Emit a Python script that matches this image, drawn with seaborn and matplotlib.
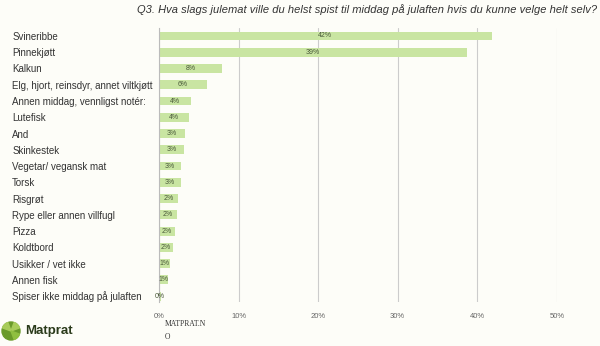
import matplotlib
matplotlib.use("Agg")
import matplotlib.pyplot as plt
import seaborn as sns
import pandas as pd
from matplotlib.patches import Circle, Wedge

categories = ["Svineribbe", "Pinnekjøtt", "Kalkun", "Elg, hjort, reinsdyr, annet viltkjøtt",
              "Annen middag, vennligst notér:", "Lutefisk", "And", "Skinkestek",
              "Vegetar/ vegansk mat", "Torsk", "Risgrøt", "Rype eller annen villfugl",
              "Pizza", "Koldtbord", "Usikker / vet ikke", "Annen fisk",
              "Spiser ikke middag på julaften"]
values = [41.8, 38.7, 7.9, 6.0, 4.0, 3.8, 3.3, 3.1, 2.8, 2.8, 2.4, 2.3, 2.0, 1.8, 1.4, 1.1, 0.2]
xticks = [0, 10, 20, 30, 40, 50]
title = "Q3. Hva slags julemat ville du helst spist til middag på julaften hvis du kunne velge helt selv?"

df = pd.DataFrame({"cat": categories, "val": values})

sns.set_theme(style="white")
plt.rcParams["font.family"] = ["Liberation Sans", "DejaVu Sans"]
bg = "#fdfdf8"
fig = plt.figure(figsize=(6, 3.46), dpi=100, facecolor=bg)
ax = fig.add_axes([0.265, 0.127, 0.663, 0.792], facecolor=bg)

sns.barplot(data=df, x="val", y="cat", orient="h", color="#c9e5a2", width=0.55,
            saturation=1, ax=ax, edgecolor="none")
ax.bar_label(ax.containers[0], labels=[f"{round(v)}%" for v in values],
             label_type="center", fontsize=5, color="#4a5a3a")

ax.set_xlim(0, 50)
ax.set_ylim(16.37, -0.49)
ax.set_xticks(xticks)
ax.set_xticklabels([f"{t}%" for t in xticks], fontsize=5.5, color="#666666")
ax.tick_params(axis="x", length=3, color="#bbbbbb", pad=5)
ax.tick_params(axis="y", length=0, pad=0)
ax.set_yticks(range(len(categories)))
ax.set_yticklabels(categories, fontsize=7, color="#333333")
for lab in ax.get_yticklabels():
    lab.set_horizontalalignment("left")
    lab.set_x(-(159 - 12) / 398)
ax.set_xlabel("")
ax.set_ylabel("")
ax.grid(axis="x", color="#cccccc", linewidth=0.8)
ax.set_axisbelow(True)
for s in ["top", "right", "bottom"]:
    ax.spines[s].set_visible(False)
ax.spines["left"].set_color("#bbbbbb")
ax.spines["left"].set_linewidth(0.8)

fig.text(0.995, 0.972, title, ha="right", va="center", fontsize=8, style="italic", color="#333333")

# logo
logo_ax = fig.add_axes([0, 0, 1, 1], facecolor="none")
logo_ax.set_xlim(0, 600)
logo_ax.set_ylim(346, 0)
logo_ax.axis("off")
logo_ax.add_patch(Circle((11, 331), 9, color="#6a9a2a"))
logo_ax.add_patch(Wedge((11, 331), 9, 200, 250, color="#a8cc5a"))
logo_ax.add_patch(Wedge((11, 331), 9, 290, 340, color="#a8cc5a"))
logo_ax.add_patch(Wedge((11, 331), 9, 20, 70, color="#8fbf40"))
logo_ax.text(25, 331, "Matprat", fontsize=9.5, fontweight="bold", color="#2a3a1a", va="center", ha="left")
logo_ax.text(165, 320, "MATPRAT.N\nO", fontsize=5.5, family="Liberation Serif", color="#333333",
             va="top", ha="left", linespacing=1.9)

fig.savefig("out.png", dpi=100, facecolor=bg)
